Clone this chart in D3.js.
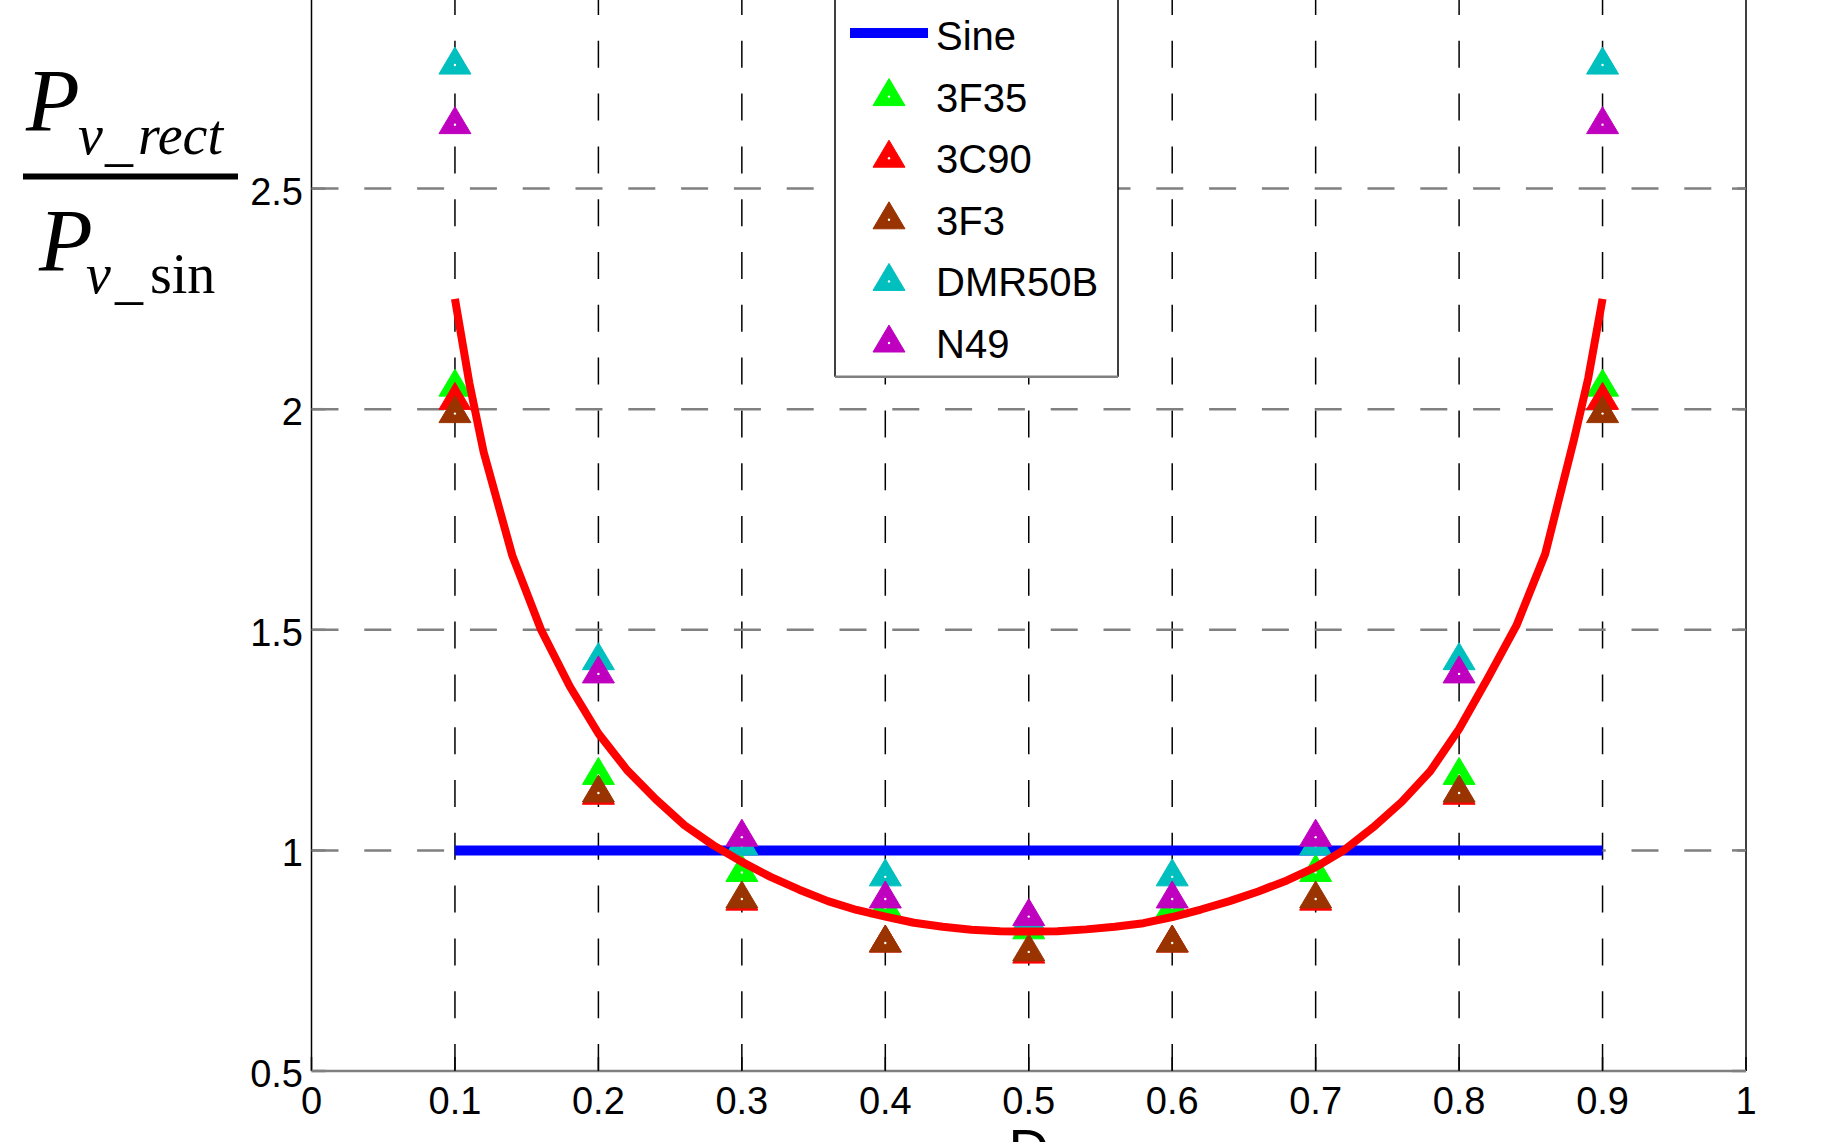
<!DOCTYPE html>
<html>
<head>
<meta charset="utf-8">
<script src="https://cdn.jsdelivr.net/npm/d3@7/dist/d3.min.js"></script>
<style>
  html, body { margin: 0; padding: 0; background: #fff; overflow: hidden; }
  svg { display: block; }
</style>
</head>
<body>
<svg id="chart" width="1828" height="1142"></svg>
<script>
// ---------------- data ----------------
const xTicks = [0, 0.1, 0.2, 0.3, 0.4, 0.5, 0.6, 0.7, 0.8, 0.9, 1];
const xTickLabels = ["0", "0.1", "0.2", "0.3", "0.4", "0.5", "0.6", "0.7", "0.8", "0.9", "1"];
const yTicks = [0.5, 1, 1.5, 2, 2.5];
const yTickLabels = ["0.5", "1", "1.5", "2", "2.5"];

const duty = [0.1, 0.2, 0.3, 0.4, 0.5, 0.6, 0.7, 0.8, 0.9];
const seriesNames = ["3F35", "3C90", "3F3", "DMR50B", "N49"];
const seriesColors = ["#00FF00", "#FF0000", "#993300", "#00BFBF", "#BF00BF"];
const v3F35   = [2.05, 1.17, 0.95, 0.87, 0.82, 0.87, 0.95, 1.17, 2.05];
const v3C90   = [2.02, 1.125, 0.885, 0.79, 0.765, 0.79, 0.885, 1.125, 2.02];
const v3F3    = [1.99, 1.13, 0.89, 0.79, 0.77, 0.79, 0.89, 1.13, 1.99];
const vDMR50B = [2.78, 1.43, 1.01, 0.94, 0.84, 0.94, 1.01, 1.43, 2.78];
const vN49    = [2.645, 1.40, 1.03, 0.89, 0.85, 0.89, 1.03, 1.40, 2.645];
const seriesValues = [v3F35, v3C90, v3F3, vDMR50B, vN49];

// Sine reference line
const sineD = [0.1, 0.9];
const sineV = [1, 1];

// red curve
const curveD = [0.10, 0.11, 0.12, 0.14, 0.16, 0.18, 0.20, 0.22, 0.24, 0.26, 0.28, 0.30,
                0.32, 0.34, 0.36, 0.38, 0.40, 0.42, 0.44, 0.46, 0.48, 0.50, 0.52, 0.54,
                0.56, 0.58, 0.60, 0.62, 0.64, 0.66, 0.68, 0.70, 0.72, 0.74, 0.76, 0.78,
                0.80, 0.82, 0.84, 0.86, 0.88, 0.89, 0.90];
const curveV = [2.25, 2.06, 1.903, 1.668, 1.50, 1.372, 1.265, 1.182, 1.116, 1.057, 1.012, 0.974,
                0.940, 0.911, 0.885, 0.865, 0.850, 0.836, 0.827, 0.820, 0.817, 0.816, 0.817, 0.821,
                0.827, 0.835, 0.849, 0.866, 0.885, 0.907, 0.932, 0.962, 1.001, 1.052, 1.11, 1.18,
                1.275, 1.39, 1.51, 1.672, 1.93, 2.07, 2.25];

// ---------------- chart ----------------
const svg = d3.select("#chart");
const x = d3.scaleLinear().domain([0, 1]).range([311.5, 1746]);
const y = d3.scaleLinear().domain([0.5, 3]).range([1071, -32]);

// gridlines
const grid = svg.append("g");
grid.selectAll("line.vg").data(xTicks.filter(d => d > 0 && d < 1)).enter().append("line")
  .attr("x1", d => x(d)).attr("x2", d => x(d))
  .attr("y1", y(0.5)).attr("y2", y(3))
  .attr("stroke", "#000").attr("stroke-width", 1.5)
  .attr("stroke-dasharray", "27,25.8");
grid.selectAll("line.hg").data(yTicks.filter(d => d > 0.5)).enter().append("line")
  .attr("x1", x(0)).attr("x2", x(1))
  .attr("y1", d => y(d)).attr("y2", d => y(d))
  .attr("stroke", "#808080").attr("stroke-width", 2.5)
  .attr("stroke-dasharray", "27,25.8");

// axes box
const ax = svg.append("g");
ax.append("line").attr("x1", x(0)).attr("x2", x(0)).attr("y1", y(0.5)).attr("y2", y(3))
  .attr("stroke", "#000").attr("stroke-width", 1.5);
ax.append("line").attr("x1", x(1)).attr("x2", x(1)).attr("y1", y(0.5)).attr("y2", y(3))
  .attr("stroke", "#000").attr("stroke-width", 1.5);
ax.append("line").attr("x1", x(0)).attr("x2", x(1)).attr("y1", y(0.5)).attr("y2", y(0.5))
  .attr("stroke", "#808080").attr("stroke-width", 2.5);
// inward ticks
ax.selectAll("line.xt").data(xTicks).enter().append("line")
  .attr("x1", d => x(d)).attr("x2", d => x(d))
  .attr("y1", y(0.5)).attr("y2", y(0.5) - 14)
  .attr("stroke", "#000").attr("stroke-width", 1.5);
ax.selectAll("line.ylt").data(yTicks).enter().append("line")
  .attr("x1", x(0)).attr("x2", x(0) + 14)
  .attr("y1", d => y(d)).attr("y2", d => y(d))
  .attr("stroke", "#808080").attr("stroke-width", 2.5);
ax.selectAll("line.yrt").data(yTicks).enter().append("line")
  .attr("x1", x(1)).attr("x2", x(1) - 14)
  .attr("y1", d => y(d)).attr("y2", d => y(d))
  .attr("stroke", "#808080").attr("stroke-width", 2.5);

// tick labels
const tickFont = "'Liberation Sans', Arial, Helvetica, sans-serif";
svg.append("g").selectAll("text").data(xTicks).enter().append("text")
  .attr("x", d => x(d)).attr("y", 1114)
  .attr("text-anchor", "middle")
  .attr("font-family", tickFont).attr("font-size", 38).attr("fill", "#000")
  .text((d, i) => xTickLabels[i]);
svg.append("g").selectAll("text").data(yTicks).enter().append("text")
  .attr("x", 303).attr("y", d => y(d) + 16)
  .attr("text-anchor", "end")
  .attr("font-family", tickFont).attr("font-size", 38).attr("fill", "#000")
  .text((d, i) => yTickLabels[i]);

// x label (cut at bottom)
svg.append("text").attr("x", x(0.5)).attr("y", 1168)
  .attr("text-anchor", "middle")
  .attr("font-family", tickFont).attr("font-size", 56).attr("fill", "#000")
  .text("D");

// y label: fraction
const serif = "'Liberation Serif', 'Times New Roman', Times, serif";
const yl = svg.append("g").attr("font-family", serif).attr("fill", "#000");
yl.append("text").attr("x", 26).attr("y", 130).attr("font-size", 88).attr("font-style", "italic").text("P");
yl.append("text").attr("x", 78).attr("y", 154).attr("font-size", 56).attr("font-style", "italic").text("v");
yl.append("text").attr("x", 105).attr("y", 160).attr("font-size", 56).text("_");
yl.append("text").attr("x", 138).attr("y", 154).attr("font-size", 56).attr("font-style", "italic").text("rect");
yl.append("line").attr("x1", 23).attr("x2", 238).attr("y1", 176.5).attr("y2", 176.5)
  .attr("stroke", "#000").attr("stroke-width", 6);
yl.append("text").attr("x", 39).attr("y", 270).attr("font-size", 88).attr("font-style", "italic").text("P");
yl.append("text").attr("x", 86).attr("y", 293).attr("font-size", 56).attr("font-style", "italic").text("v");
yl.append("text").attr("x", 115).attr("y", 298).attr("font-size", 56).text("_");
yl.append("text").attr("x", 150).attr("y", 293).attr("font-size", 56).text("sin");

// sine line
const lineGen = d3.line().x(d => x(d[0])).y(d => y(d[1]));
svg.append("path")
  .attr("d", lineGen(sineD.map((d, i) => [d, sineV[i]])))
  .attr("fill", "none").attr("stroke", "#0000FF").attr("stroke-width", 10);

// markers
function tri(cx, cy) {
  const w = 16, up = 18, dn = 9;
  return `M${cx},${cy - up}L${cx + w},${cy + dn}L${cx - w},${cy + dn}Z`;
}
seriesValues.forEach((vals, si) => {
  const g = svg.append("g");
  g.selectAll("path").data(duty).enter().append("path")
    .attr("d", (d, i) => tri(x(d), y(vals[i])))
    .attr("fill", seriesColors[si]).attr("stroke", seriesColors[si]).attr("stroke-width", 1);
  g.selectAll("circle").data(duty).enter().append("circle")
    .attr("cx", d => x(d)).attr("cy", (d, i) => y(vals[i])).attr("r", 1.2).attr("fill", "#fff");
});

// red curve
svg.append("path")
  .attr("d", lineGen(curveD.map((d, i) => [d, curveV[i]])))
  .attr("fill", "none").attr("stroke", "#FF0000").attr("stroke-width", 8)
  .attr("stroke-linejoin", "round");

// legend
const lg = svg.append("g");
lg.append("rect").attr("x", 835).attr("y", -10).attr("width", 283).attr("height", 386.7)
  .attr("fill", "#fff");
lg.append("line").attr("x1", 835).attr("x2", 835).attr("y1", -10).attr("y2", 376.7)
  .attr("stroke", "#000").attr("stroke-width", 1.5);
lg.append("line").attr("x1", 1118).attr("x2", 1118).attr("y1", -10).attr("y2", 376.7)
  .attr("stroke", "#000").attr("stroke-width", 1.5);
lg.append("line").attr("x1", 835).attr("x2", 1118).attr("y1", 376.7).attr("y2", 376.7)
  .attr("stroke", "#808080").attr("stroke-width", 2.5);
const legNames = ["Sine"].concat(seriesNames);
const rowBase = i => 50 + 61.6 * i;
lg.append("line").attr("x1", 850).attr("x2", 928).attr("y1", 33).attr("y2", 33)
  .attr("stroke", "#0000FF").attr("stroke-width", 10);
seriesNames.forEach((n, si) => {
  const cy = rowBase(si + 1) - 15;
  lg.append("path").attr("d", tri(889, cy))
    .attr("fill", seriesColors[si]).attr("stroke", seriesColors[si]).attr("stroke-width", 1);
  lg.append("circle").attr("cx", 889).attr("cy", cy).attr("r", 1.2).attr("fill", "#fff");
});
lg.selectAll("text").data(legNames).enter().append("text")
  .attr("x", 936).attr("y", (d, i) => rowBase(i))
  .attr("font-family", tickFont).attr("font-size", 40).attr("fill", "#000")
  .attr("textLength", null)
  .text(d => d);
</script>
</body>
</html>
